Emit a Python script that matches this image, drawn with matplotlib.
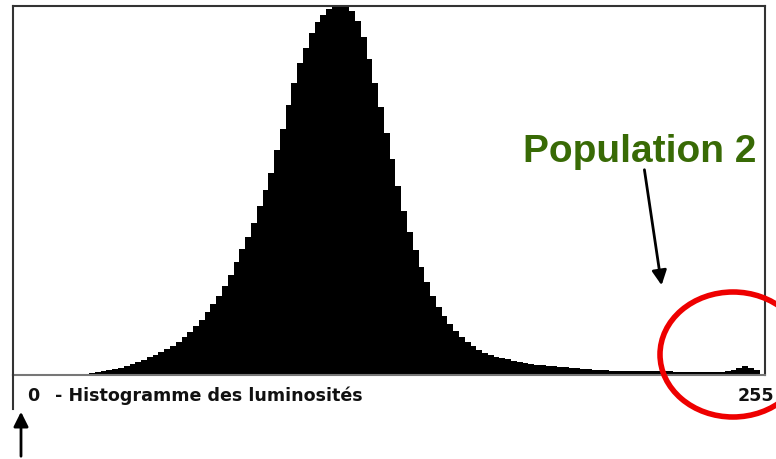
import matplotlib
matplotlib.use("Agg")
import matplotlib.pyplot as plt
from matplotlib.patches import Ellipse
import numpy as np

# luminosity histogram, 128 bins of width 2
bin_width = 2
counts = [0] * 13 + [
    2, 3, 4, 5, 6, 7, 9, 11, 13, 15,
    18, 20, 23, 26, 29, 33, 38, 43, 49, 55,
    63, 71, 79, 89, 100, 113, 126, 138, 152, 169,
    185, 202, 225, 246, 270, 292, 312, 327, 342, 353,
    360, 366, 372, 374, 372, 364, 354, 338, 316, 292,
    268, 242, 216, 189, 164, 143, 125, 108, 93, 79,
    68, 59, 51, 44, 38, 33, 29, 25, 22, 20,
    18, 17, 16, 14, 13, 12, 11, 10, 10, 9,
    9, 8, 8, 7, 7, 6, 6, 5, 5, 5,
    4, 4, 4, 4, 4, 4, 4, 4, 4, 4,
    4, 3, 3, 3, 3, 3, 3, 3, 3, 3,
    4, 5, 7, 9, 7, 5,
]
lum = np.arange(len(counts)) * bin_width

W, H = 776, 460
fig = plt.figure(figsize=(W / 100, H / 100), dpi=100)
fig.patch.set_facecolor("white")

# plot frame: x 13..765, y 7..376 (pixels from top)
ax = fig.add_axes([13 / W, 1 - 376 / H, (765 - 13) / W, (376 - 7) / H])
ax.bar(lum, counts, width=bin_width, align="edge", color="black", linewidth=0)
ax.set_xlim(-0.35, 259.9)
ax.set_ylim(0, 369)
ax.set_xticks([])
ax.set_yticks([])
for s in ax.spines.values():
    s.set_color("#333333")
    s.set_linewidth(1.5)
ax.spines["bottom"].set_color("#777777")

# left edge line continues below the frame
fig.add_artist(plt.Line2D([13 / W, 13 / W], [1 - 410 / H, 1 - 376 / H],
                          transform=fig.transFigure, color="#333333", lw=1.5))

# status line
status_font = dict(fontsize=12.6, fontweight="bold", family="DejaVu Sans",
                   color="#111111", va="center", ha="left")
fig.text(27 / W, 1 - 396 / H, "0", **status_font)
fig.text(55 / W, 1 - 396 / H, "- Histogramme des luminosités", **status_font)
fig.text(774 / W, 1 - 396 / H, "255", **dict(status_font, ha="right"))

# annotation
fig.text(523 / W, 1 - 152 / H, "Population 2", fontsize=28, fontweight="bold",
         family="Liberation Sans", color="#386a05", va="center", ha="left")
ax.annotate("", xy=(662, H - 289), xytext=(644, H - 168),
            xycoords="figure pixels", textcoords="figure pixels",
            arrowprops=dict(arrowstyle="-|>", lw=2, color="black",
                            mutation_scale=22), annotation_clip=False)
fig.add_artist(Ellipse((733 / W, 1 - 355.5 / H), 146 / W, 125 / H,
                       transform=fig.transFigure, fill=False,
                       edgecolor="#ee0000", lw=4, clip_on=False))

# arrow pointing up at the 0 end
ax.annotate("", xy=(21, H - 410), xytext=(21, 0),
            xycoords="figure pixels", textcoords="figure pixels",
            arrowprops=dict(arrowstyle="-|>", lw=2, color="black",
                            mutation_scale=22), annotation_clip=False)

fig.savefig("out.png", dpi=100)
